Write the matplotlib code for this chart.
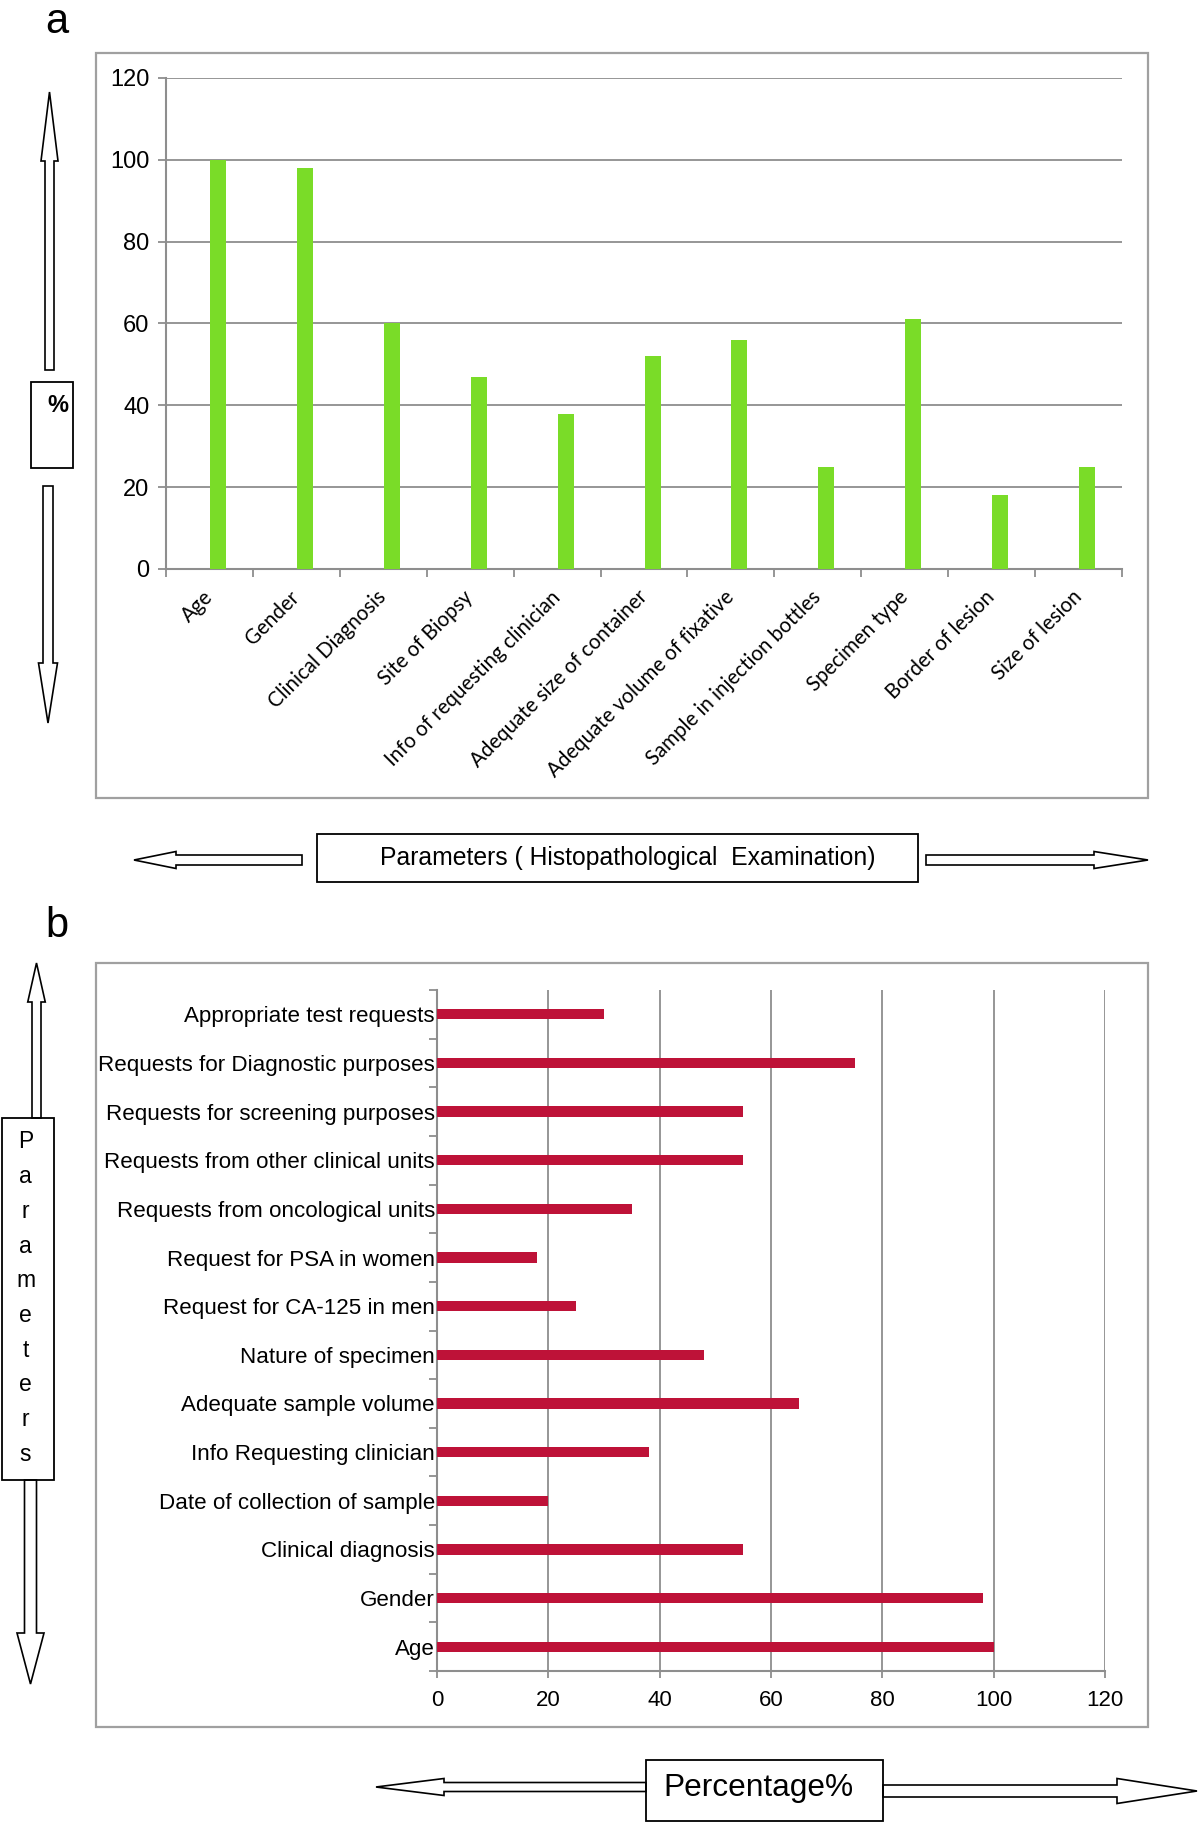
import matplotlib
matplotlib.use("Agg")
import matplotlib.pyplot as plt
from matplotlib.patches import FancyArrow, Rectangle
from matplotlib.ticker import FixedLocator
import numpy as np

# panel a data
histo_labels = ["Age", "Gender", "Clinical Diagnosis", "Site of Biopsy",
                "Info of requesting clinician", "Adequate size of container",
                "Adequate volume of fixative", "Sample in injection bottles",
                "Specimen type", "Border of lesion", "Size of lesion"]
histo_values = [100, 98, 60, 47, 38, 52, 56, 25, 61, 18, 25]

# panel b data (top to bottom)
lab_labels = ["Appropriate test requests", "Requests for Diagnostic purposes",
              "Requests for screening purposes", "Requests from other clinical units",
              "Requests from oncological units", "Request for PSA in women",
              "Request for CA-125 in men", "Nature of specimen",
              "Adequate sample volume", "Info Requesting clinician",
              "Date of collection of sample", "Clinical diagnosis", "Gender", "Age"]
lab_values = [30, 75, 55, 55, 35, 18, 25, 48, 65, 38, 20, 55, 98, 100]

W, H = 1200, 1822
GRID = "#8e8e8e"
fig = plt.figure(figsize=(12, 18.22), dpi=100)

# overlay in pixel units for frames, arrows and boxes
ov = fig.add_axes([0, 0, 1, 1])
ov.set_xlim(0, W)
ov.set_ylim(H, 0)
ov.axis("off")


def block_arrow(x, y, dx, dy, w, hw, hl):
    ov.add_patch(FancyArrow(x, y, dx, dy, width=w, head_width=hw, head_length=hl,
                            length_includes_head=True, fc="white", ec="black", lw=1.2))


def box(x, y, w, h, ec="black", lw=1.3):
    ov.add_patch(Rectangle((x, y), w, h, fc="none", ec=ec, lw=lw))


# frames
box(96, 53, 1052, 745, ec="#a0a0a0", lw=1.6)
box(96, 963, 1052, 764, ec="#a0a0a0", lw=1.6)

ov.text(57, 22, "a", fontsize=30, ha="center", va="center", family="Liberation Sans")
ov.text(57, 926, "b", fontsize=30, ha="center", va="center", family="Liberation Sans")

# panel a side decorations
block_arrow(49.5, 370, 0, -278, 9, 17, 69)
block_arrow(48, 486, 0, 237, 10, 19, 60)
box(30.6, 381.5, 42.4, 86)
ov.text(58, 406, "%", fontsize=17, fontweight="bold", ha="center", va="center",
        family="Liberation Sans")
block_arrow(302, 860, -168, 0, 10, 17, 42)
block_arrow(926, 860, 222, 0, 10, 17, 54)
box(317, 834, 601, 48)
ov.text(628, 858, "Parameters ( Histopathological  Examination)", fontsize=17.8,
        ha="center", va="center", family="Liberation Sans")

# panel b side decorations
block_arrow(36.5, 1118, 0, -155, 9, 17.5, 39)
block_arrow(30.5, 1480, 0, 204, 12, 27, 51)
box(2, 1118, 51.6, 362)
for k, ch in enumerate("Parameters"):
    ov.text(25.5, 1142 + k * 34.7, ch, fontsize=16.5, ha="center", va="center",
            family="Liberation Sans")
block_arrow(646, 1787, -270, 0, 9, 17, 68)
block_arrow(883, 1791, 314, 0, 12, 25, 80)
box(646, 1760, 237, 61)
ov.text(758, 1788, "Percentage%", fontsize=22.8, ha="center", va="center",
        family="Liberation Sans")

# panel a chart
axa = fig.add_axes([166 / W, 1 - 569 / H, (1122 - 166) / W, (569 - 78) / H])
xa = np.arange(len(histo_labels))
axa.bar(xa + 0.098, histo_values, width=0.184, color="#7ADC28", zorder=3)
axa.set_xlim(-0.5, len(histo_labels) - 0.5)
axa.set_ylim(0, 120)
axa.set_yticks(np.arange(0, 121, 20))
axa.yaxis.grid(True, color=GRID, lw=1.3)
axa.set_axisbelow(True)
for s in ["top", "right"]:
    axa.spines[s].set_visible(False)
for s in ["left", "bottom"]:
    axa.spines[s].set_color(GRID)
    axa.spines[s].set_linewidth(1.5)
axa.set_xticks(xa)
axa.set_xticklabels(histo_labels, rotation=45, ha="right", va="center",
                    rotation_mode="anchor", family="Lato", fontsize=14.8)
axa.tick_params(axis="x", length=0, pad=18)
axa.xaxis.set_minor_locator(FixedLocator(np.arange(-0.5, len(histo_labels), 1)))
axa.tick_params(axis="x", which="minor", length=6, color=GRID, width=1.3)
axa.tick_params(axis="y", length=6, color=GRID, width=1.3, labelsize=17, pad=6)
for t in axa.get_yticklabels():
    t.set_family("Liberation Sans")

# panel b chart
axb = fig.add_axes([437 / W, 1 - 1671 / H, (1105 - 437) / W, (1671 - 990) / H])
yb = np.arange(len(lab_labels))
axb.barh(yb, lab_values, height=0.21, color="#BE1238", zorder=3)
axb.set_ylim(len(lab_labels) - 0.5, -0.5)
axb.set_xlim(0, 120)
axb.set_xticks(np.arange(0, 121, 20))
axb.xaxis.grid(True, color=GRID, lw=1.3)
axb.set_axisbelow(True)
for s in ["top", "right"]:
    axb.spines[s].set_visible(False)
for s in ["left", "bottom"]:
    axb.spines[s].set_color(GRID)
    axb.spines[s].set_linewidth(1.5)
axb.set_yticks(yb)
axb.set_yticklabels(lab_labels, family="Liberation Sans", fontsize=16.1)
axb.tick_params(axis="y", length=0, pad=1.5)
axb.yaxis.set_minor_locator(FixedLocator(np.arange(-0.5, len(lab_labels), 1)))
axb.tick_params(axis="y", which="minor", length=6, color=GRID, width=1.3)
axb.tick_params(axis="x", length=5, color=GRID, width=1.3, labelsize=16, pad=9)
for t in axb.get_xticklabels():
    t.set_family("Liberation Sans")

fig.savefig("out.png", dpi=100)
